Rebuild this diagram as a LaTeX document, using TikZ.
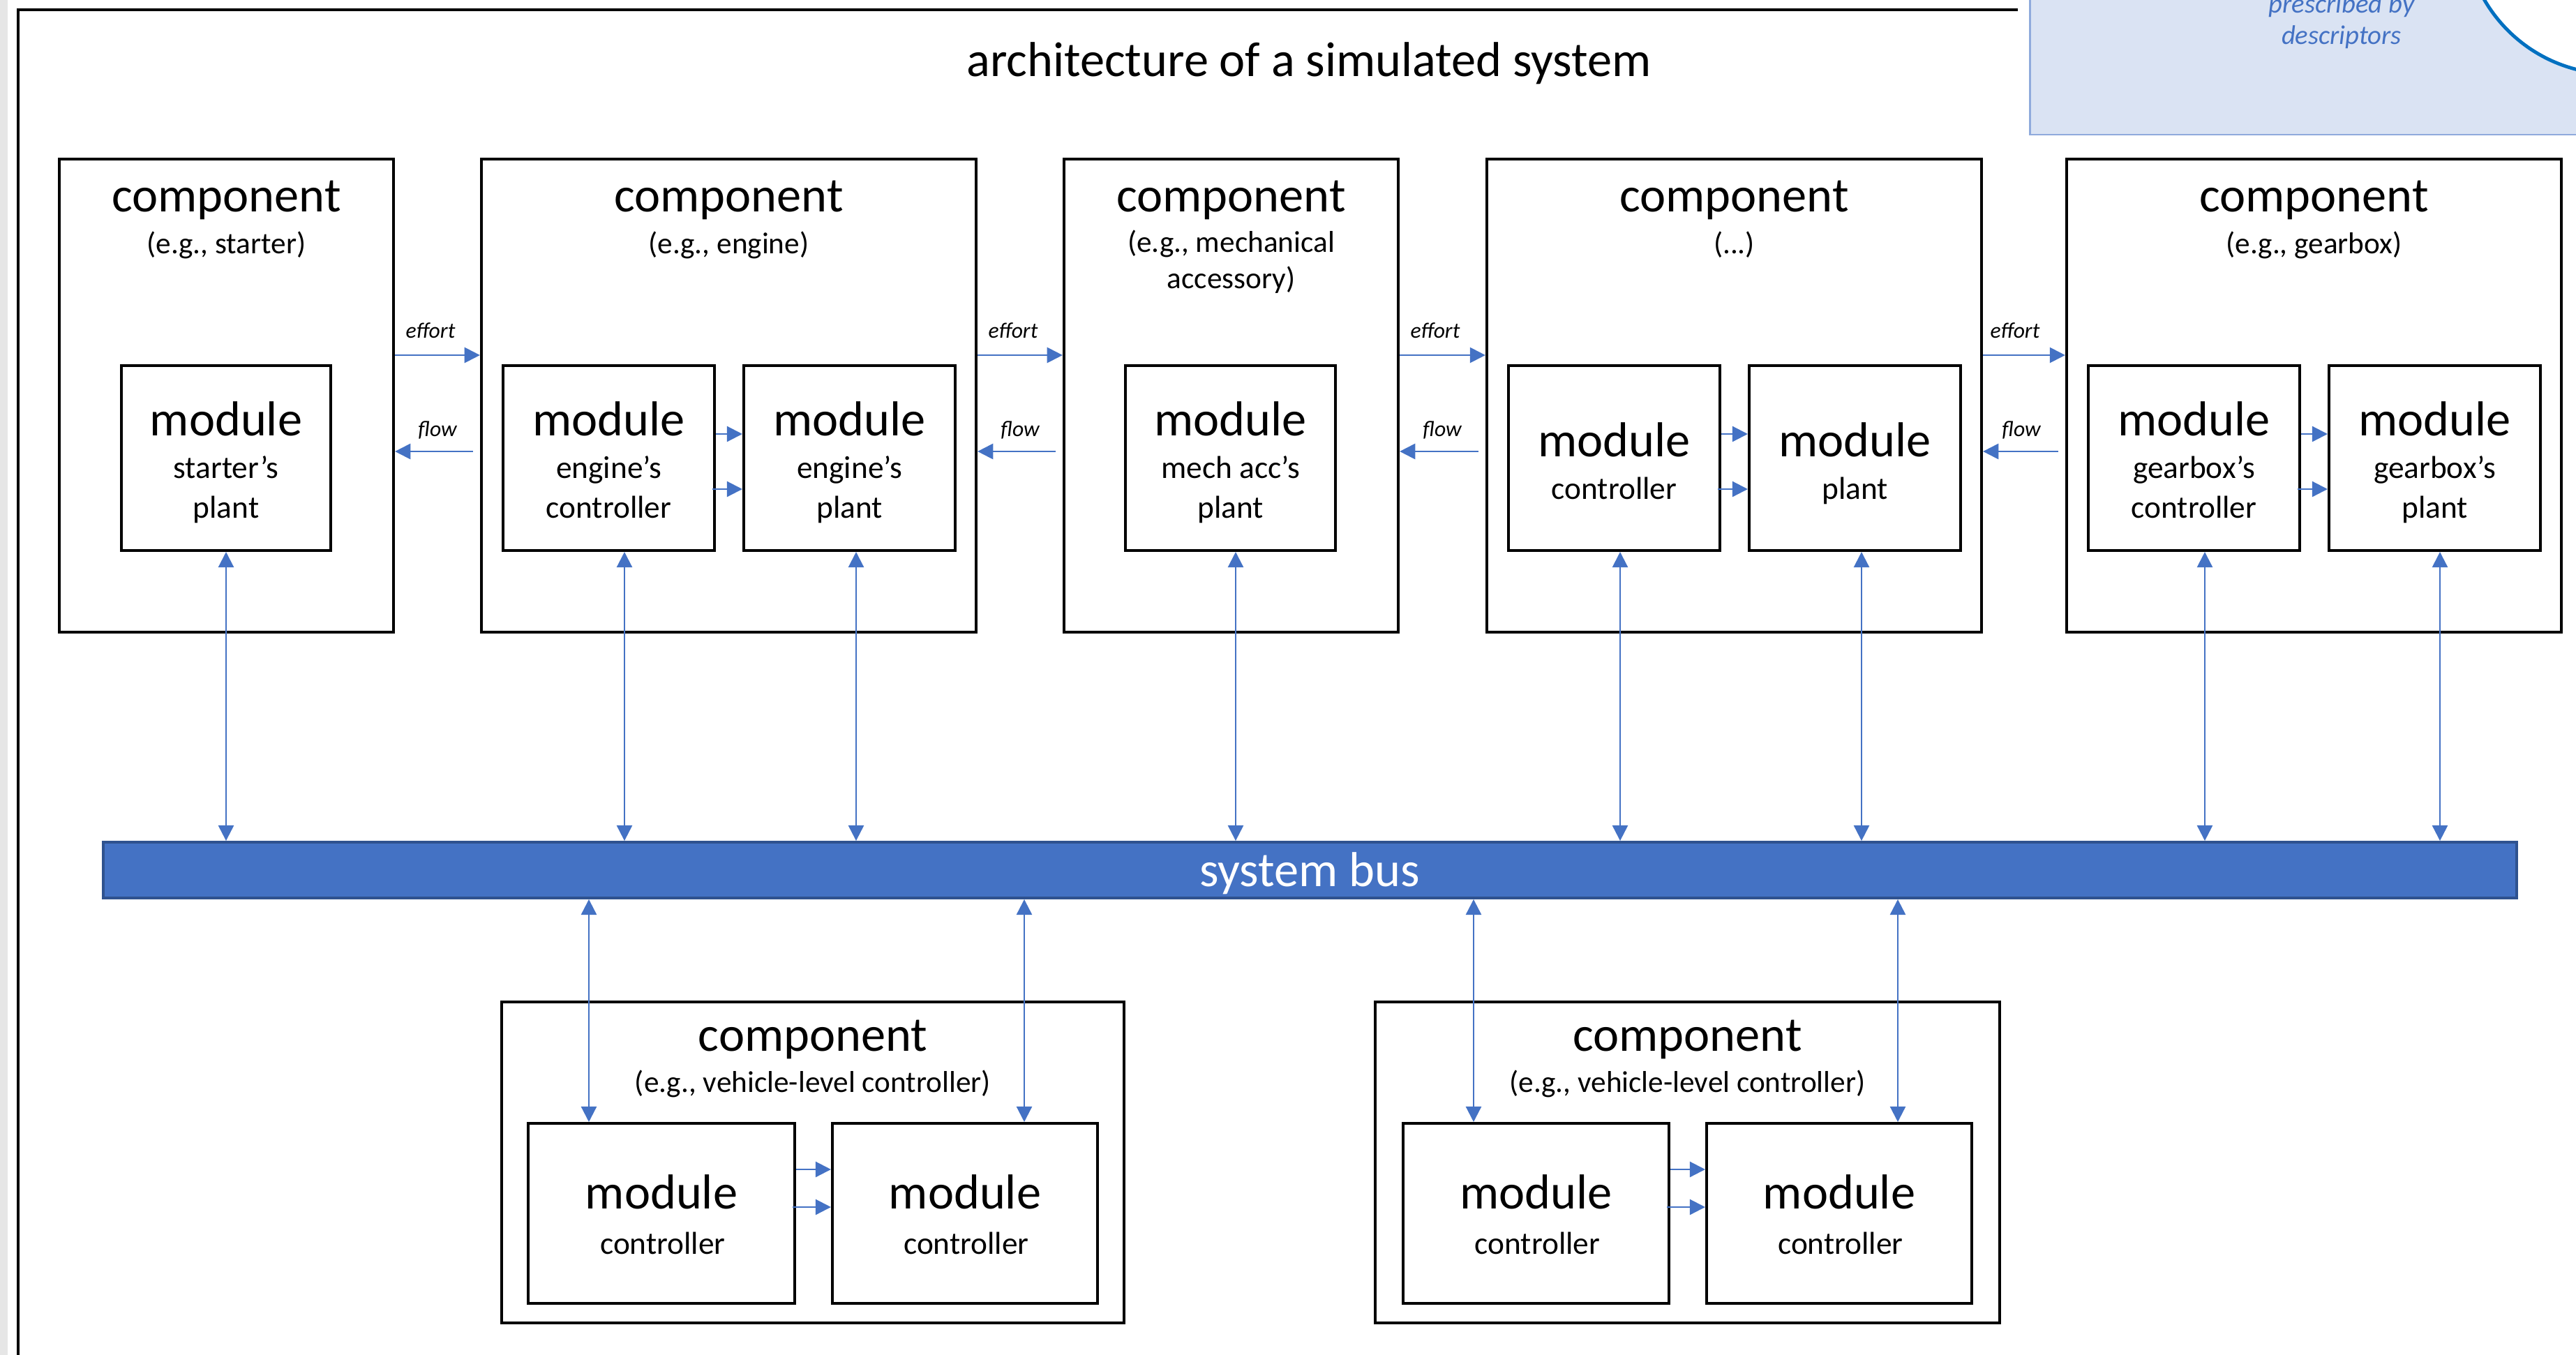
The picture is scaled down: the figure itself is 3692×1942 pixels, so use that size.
\documentclass[tikz,border=0pt]{standalone}
\usepackage{fontspec}
\setmainfont{Carlito}
\usetikzlibrary{arrows.meta,fit,calc}
\definecolor{linkblue}{HTML}{4472C4}
\definecolor{busedge}{HTML}{2F528F}
\definecolor{notefill}{HTML}{DAE3F3}
\definecolor{noteedge}{HTML}{8FAADC}
\definecolor{arcblue}{HTML}{0070C0}
\definecolor{sidegrey}{HTML}{E6E6E6}

\begin{document}
\begin{tikzpicture}[x=0.01cm,y=-0.01cm,
  comp/.style={draw=black, line width=1.2pt, inner sep=0pt},
  modbox/.style={draw=black, line width=1.15pt, inner sep=0pt},
  big/.style={font=\fontsize{20}{24}\selectfont, anchor=base, inner sep=0pt},
  compsub/.style={font=\fontsize{12.3}{15}\selectfont, anchor=base, inner sep=0pt},
  modsub/.style={font=\fontsize{12.9}{15}\selectfont, anchor=base, inner sep=0pt},
  sig/.style={font=\itshape\fontsize{9}{11}\selectfont, anchor=base, inner sep=0pt},
  tipshape/.tip={Triangle[length=6.3pt,width=6.3pt]},
  link/.style={draw=linkblue, line width=0.65pt, -tipshape},
  dlink/.style={draw=linkblue, line width=0.65pt, tipshape-tipshape},
]
\useasboundingbox (0,0) rectangle (3692,1942);
\clip (0,0) rectangle (3692,1942);

% page edge and outer frame
\fill[sidegrey] (0,0) rectangle (11,1942);
\draw[line width=1.2pt] (2892,14) -- (26,14) -- (26,1980);

% note box with descriptor bubble
\draw[fill=notefill, draw=noteedge, line width=0.85pt] (2909,-60) rectangle (3760,193);
\node[font=\itshape\fontsize{11}{13}\selectfont, text=linkblue, anchor=base, inner sep=0pt] (note1) at (3356,18) {prescribed by};
\node[font=\itshape\fontsize{11}{13}\selectfont, text=linkblue, anchor=base, inner sep=0pt] (note2) at (3356,63) {descriptors};
\draw[fill=white, draw=arcblue, line width=1.4pt] (3745,-107) circle[radius=213];

% title
\node[big] (title) at (1876,109) {architecture of a simulated system};

% levels used by connectors
\coordinate (lvlE) at (0,509);
\coordinate (lvlF) at (0,647);
\coordinate (lvlA) at (0,622);
\coordinate (lvlB) at (0,701);
\coordinate (lvlC) at (0,1676);
\coordinate (lvlD) at (0,1730);

% ---------------- top row of components ----------------
\node[comp, fit={(85,228) (564,906)}] (c1) {};
\node[comp, fit={(690,228) (1399,906)}] (c2) {};
\node[comp, fit={(1525,228) (2004,906)}] (c3) {};
\node[comp, fit={(2131,228) (2840,906)}] (c4) {};
\node[comp, fit={(2962,228) (3671,906)}] (c5) {};

\node[big] (c1t) at (324.5,303) {component};
\node[compsub] (c1s) at (324.5,363) {(e.g., starter)};
\node[big] (c2t) at (1044.5,303) {component};
\node[compsub] (c2s) at (1044.5,363) {(e.g., engine)};
\node[big] (c3t) at (1764.5,303) {component};
\node[compsub] (c3s) at (1764.5,361) {(e.g., mechanical};
\node[compsub] (c3s2) at (1764.5,413) {accessory)};
\node[big] (c4t) at (2485.5,303) {component};
\node[compsub] (c4s) at (2485.5,363) {(...)};
\node[big] (c5t) at (3316.5,303) {component};
\node[compsub] (c5s) at (3316.5,363) {(e.g., gearbox)};

% modules of the top row
\node[modbox, fit={(174,524) (474,789)}] (m1) {};
\node[modbox, fit={(721,524) (1024,789)}] (m2a) {};
\node[modbox, fit={(1066,524) (1369,789)}] (m2b) {};
\node[modbox, fit={(1613,524) (1914,789)}] (m3) {};
\node[modbox, fit={(2162,524) (2465,789)}] (m4a) {};
\node[modbox, fit={(2507,524) (2810,789)}] (m4b) {};
\node[modbox, fit={(2993,524) (3296,789)}] (m5a) {};
\node[modbox, fit={(3338,524) (3641,789)}] (m5b) {};

\node[big] (m1t) at (324,624) {module};
\node[modsub] (m1s) at (324,685) {starter’s};
\node[modsub] (m1s2) at (324,742) {plant};
\node[big] (m2at) at (872.5,624) {module};
\node[modsub] (m2as) at (872.5,685) {engine’s};
\node[modsub] (m2as2) at (872.5,742) {controller};
\node[big] (m2bt) at (1217.5,624) {module};
\node[modsub] (m2bs) at (1217.5,685) {engine’s};
\node[modsub] (m2bs2) at (1217.5,742) {plant};
\node[big] (m3t) at (1763.5,624) {module};
\node[modsub] (m3s) at (1763.5,685) {mech acc’s};
\node[modsub] (m3s2) at (1763.5,742) {plant};
\node[big] (m4at) at (2313.5,654) {module};
\node[modsub] (m4as) at (2313.5,715) {controller};
\node[big] (m4bt) at (2658.5,654) {module};
\node[modsub] (m4bs) at (2658.5,715) {plant};
\node[big] (m5at) at (3144.5,624) {module};
\node[modsub] (m5as) at (3144.5,685) {gearbox’s};
\node[modsub] (m5as2) at (3144.5,742) {controller};
\node[big] (m5bt) at (3489.5,624) {module};
\node[modsub] (m5bs) at (3489.5,685) {gearbox’s};
\node[modsub] (m5bs2) at (3489.5,742) {plant};

% effort / flow between neighbouring components
\draw[link] (c1.east |- lvlE) -- (c2.west |- lvlE);
\draw[link] ($(c2.west |- lvlF)+(-10,0)$) -- (c1.east |- lvlF);
\draw[link] (c2.east |- lvlE) -- (c3.west |- lvlE);
\draw[link] ($(c3.west |- lvlF)+(-10,0)$) -- (c2.east |- lvlF);
\draw[link] (c3.east |- lvlE) -- (c4.west |- lvlE);
\draw[link] ($(c4.west |- lvlF)+(-10,0)$) -- (c3.east |- lvlF);
\draw[link] (c4.east |- lvlE) -- (c5.west |- lvlE);
\draw[link] ($(c5.west |- lvlF)+(-10,0)$) -- (c4.east |- lvlF);

\node[sig] (e12) at (617,484) {effort};
\node[sig] (f12) at (627,625) {flow};
\node[sig] (e23) at (1452,484) {effort};
\node[sig] (f23) at (1462,625) {flow};
\node[sig] (e34) at (2057,484) {effort};
\node[sig] (f34) at (2067,625) {flow};
\node[sig] (e45) at (2888,484) {effort};
\node[sig] (f45) at (2897,625) {flow};

% controller -> plant inside components
\draw[link] (m2a.east |- lvlA) -- (m2b.west |- lvlA);
\draw[link] ($(m2a.east |- lvlB)+(-5,0)$) -- (m2b.west |- lvlB);
\draw[link] (m4a.east |- lvlA) -- (m4b.west |- lvlA);
\draw[link] ($(m4a.east |- lvlB)+(-5,0)$) -- (m4b.west |- lvlB);
\draw[link] (m5a.east |- lvlA) -- (m5b.west |- lvlA);
\draw[link] ($(m5a.east |- lvlB)+(-5,0)$) -- (m5b.west |- lvlB);

% ---------------- system bus ----------------
\node[draw=busedge, fill=linkblue, line width=1.1pt, inner sep=0pt, fit={(148,1207) (3607,1287)}] (bus) {};
\node[big, text=white] (bust) at (1877,1270) {system bus};

% module <-> bus links (top row)
\foreach \m/\x in {m1/324, m2a/895, m2b/1227, m3/1771, m4a/2322, m4b/2668, m5a/3160, m5b/3497}{
  \coordinate (v\m) at (\x,0);
  \draw[dlink] (\m.south -| v\m) -- (bus.north -| v\m);
}

% ---------------- bottom row of components ----------------
\node[comp, fit={(719,1436) (1611,1896)}] (b1) {};
\node[comp, fit={(1971,1436) (2866,1896)}] (b2) {};
\node[big] (b1t) at (1165,1506) {component};
\node[compsub] (b1s) at (1165,1565) {(e.g., vehicle-level controller)};
\node[big] (b2t) at (2418.5,1506) {component};
\node[compsub] (b2s) at (2418.5,1565) {(e.g., vehicle-level controller)};

\node[modbox, fit={(757,1610) (1139,1868)}] (b1a) {};
\node[modbox, fit={(1193,1610) (1573,1868)}] (b1b) {};
\node[modbox, fit={(2011,1610) (2392,1868)}] (b2a) {};
\node[modbox, fit={(2446,1610) (2826,1868)}] (b2b) {};

\node[big] (b1at) at (948,1732) {module};
\node[modsub] (b1as) at (950,1797) {controller};
\node[big] (b1bt) at (1383,1732) {module};
\node[modsub] (b1bs) at (1385,1797) {controller};
\node[big] (b2at) at (2201.5,1732) {module};
\node[modsub] (b2as) at (2203.5,1797) {controller};
\node[big] (b2bt) at (2636,1732) {module};
\node[modsub] (b2bs) at (2638,1797) {controller};

\draw[link] (b1a.east |- lvlC) -- (b1b.west |- lvlC);
\draw[link] ($(b1a.east |- lvlD)+(-5,0)$) -- (b1b.west |- lvlD);
\draw[link] (b2a.east |- lvlC) -- (b2b.west |- lvlC);
\draw[link] ($(b2a.east |- lvlD)+(-5,0)$) -- (b2b.west |- lvlD);

% bus <-> module links (bottom row)
\foreach \m/\x in {b1a/844, b1b/1468, b2a/2112, b2b/2720}{
  \coordinate (w\m) at (\x,0);
  \draw[dlink] (bus.south -| w\m) -- (\m.north -| w\m);
}
\end{tikzpicture}
\end{document}
